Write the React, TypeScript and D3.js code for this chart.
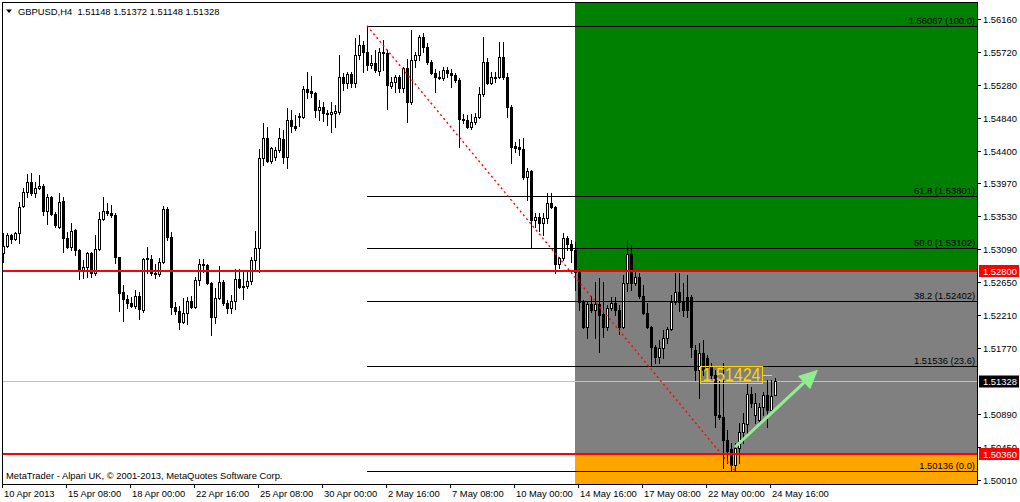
import React from "react";
import * as d3 from "d3";

// ---- data (GBPUSD, H4) ----
const opens = [
1.5304,1.5313,1.5328,1.5322,1.5330,1.5366,1.5385,1.5398,1.5384,1.5390,
1.5393,1.5360,1.5378,1.5356,1.5338,1.5373,1.5324,1.5312,1.5334,1.5308,
1.5281,1.5285,1.5304,1.5277,1.5309,1.5349,1.5360,1.5357,1.5354,1.5298,
1.5252,1.5242,1.5237,1.5233,1.5246,1.5228,1.5297,1.5296,1.5277,1.5276,
1.5292,1.5362,1.5325,1.5232,1.5226,1.5212,1.5224,1.5240,1.5232,1.5268,
1.5289,1.5288,1.5264,1.5218,1.5244,1.5265,1.5237,1.5230,1.5240,1.5269,
1.5258,1.5260,1.5266,1.5294,1.5310,1.5430,1.5457,1.5426,1.5432,1.5441,
1.5455,1.5432,1.5481,1.5473,1.5486,1.5485,1.5522,1.5520,1.5517,1.5494,
1.5499,1.5490,1.5489,1.5491,1.5492,1.5538,1.5530,1.5542,1.5530,1.5568,
1.5581,1.5572,1.5554,1.5557,1.5547,1.5572,1.5570,1.5527,1.5532,1.5538,
1.5524,1.5550,1.5505,1.5561,1.5568,1.5592,1.5578,1.5558,1.5544,1.5539,
1.5537,1.5548,1.5544,1.5541,1.5534,1.5482,1.5481,1.5472,1.5478,1.5485,
1.5516,1.5558,1.5530,1.5537,1.5538,1.5565,1.5538,1.5498,1.5446,1.5445,
1.5443,1.5405,1.5413,1.5348,1.5352,1.5344,1.5350,1.5370,1.5365,1.5289,
1.5297,1.5324,1.5316,1.5308,1.5278,1.5238,1.5205,1.5236,1.5228,1.5236,
1.5223,1.5205,1.5230,1.5237,1.5228,1.5205,1.5264,1.5302,1.5264,1.5272,
1.5246,1.5224,1.5205,1.5178,1.5165,1.5177,1.5190,1.5202,1.5238,1.5252,
1.5238,1.5245,1.5245,1.5174,1.5148,1.5170,1.5164,1.5152,1.5141,1.5088,
1.5085,1.5054,1.5042,1.5021,1.5044,1.5065,1.5075,1.5116,1.5088,1.5081,
1.5098,1.5114,1.5094,1.51148];

const highs = [
1.5330,1.5330,1.5329,1.5332,1.5372,1.5390,1.5409,1.5410,1.5398,1.5408,
1.5396,1.5382,1.5380,1.5358,1.5384,1.5378,1.5332,1.5344,1.5336,1.5309,
1.5294,1.5305,1.5305,1.5328,1.5358,1.5378,1.5370,1.5368,1.5357,1.5299,
1.5261,1.5248,1.5245,1.5254,1.5252,1.5297,1.5312,1.5301,1.5289,1.5297,
1.5366,1.5365,1.5332,1.5238,1.5233,1.5244,1.5245,1.5246,1.5272,1.5296,
1.5296,1.5289,1.5265,1.5257,1.5286,1.5268,1.5241,1.5248,1.5282,1.5282,
1.5281,1.5280,1.5298,1.5333,1.5442,1.5477,1.5472,1.5445,1.5445,1.5470,
1.5468,1.5497,1.5494,1.5488,1.5490,1.5526,1.5545,1.5540,1.5518,1.5508,
1.5505,1.5494,1.5505,1.5501,1.5568,1.5544,1.5545,1.5545,1.5590,1.5594,
1.5586,1.56067,1.5568,1.5574,1.5577,1.5588,1.5574,1.5538,1.5541,1.5541,
1.5552,1.5562,1.5601,1.5572,1.5594,1.5597,1.5584,1.5561,1.5549,1.5546,
1.5552,1.5552,1.5549,1.5544,1.5537,1.5489,1.5488,1.5489,1.5490,1.5525,
1.5592,1.5564,1.5545,1.5545,1.5585,1.5585,1.5544,1.5501,1.5452,1.5456,
1.5457,1.5417,1.5414,1.5357,1.5357,1.5357,1.5384,1.5384,1.5366,1.5298,
1.5330,1.5326,1.5321,1.5318,1.5284,1.5241,1.5238,1.5246,1.5265,1.5270,
1.5265,1.5234,1.5245,1.5245,1.5234,1.5274,1.5321,1.5314,1.5281,1.5277,
1.5261,1.5237,1.5206,1.5181,1.5188,1.5201,1.5205,1.5248,1.5277,1.5277,
1.5264,1.5274,1.5248,1.5181,1.5184,1.5188,1.5168,1.5157,1.5148,1.5134,
1.5157,1.5068,1.5050,1.5050,1.5077,1.5090,1.5129,1.5125,1.5117,1.5104,
1.5118,1.5134,1.5134,1.51372];

const lows = [
1.5292,1.5312,1.5317,1.5321,1.5317,1.5365,1.5378,1.5381,1.5378,1.5389,
1.5354,1.5342,1.5354,1.5338,1.5337,1.5305,1.5310,1.5308,1.5301,1.5269,
1.5270,1.5272,1.5272,1.5274,1.5308,1.5348,1.5354,1.5352,1.5290,1.5226,
1.5213,1.5230,1.5232,1.5230,1.5216,1.5225,1.5277,1.5274,1.5270,1.5273,
1.5290,1.5321,1.5222,1.5222,1.5202,1.5210,1.5209,1.5230,1.5231,1.5261,
1.5278,1.5262,1.5194,1.5210,1.5242,1.5234,1.5224,1.5224,1.5229,1.5257,
1.5242,1.5257,1.5262,1.5281,1.5278,1.5421,1.5425,1.5424,1.5428,1.5438,
1.5424,1.5417,1.5465,1.5468,1.5473,1.5484,1.5510,1.5512,1.5485,1.5481,
1.5480,1.5474,1.5465,1.5472,1.5489,1.5521,1.5524,1.5525,1.5525,1.5562,
1.5545,1.5548,1.5550,1.5545,1.5541,1.5548,1.5496,1.5524,1.5518,1.5518,
1.5518,1.5478,1.5503,1.5552,1.5561,1.5572,1.5556,1.5542,1.5518,1.5536,
1.5534,1.5538,1.5525,1.5532,1.5445,1.5477,1.5470,1.5469,1.5476,1.5484,
1.5513,1.5529,1.5529,1.5532,1.5537,1.5536,1.5485,1.5424,1.5438,1.5434,
1.5402,1.5374,1.5312,1.5338,1.5333,1.5328,1.5344,1.5364,1.5277,1.5284,
1.5294,1.5308,1.5292,1.5254,1.5228,1.5204,1.5190,1.5225,1.5190,1.5172,
1.5192,1.5201,1.5228,1.5221,1.5196,1.5204,1.5253,1.5254,1.5261,1.5244,
1.5222,1.5204,1.5154,1.5157,1.5157,1.5164,1.5184,1.5201,1.5236,1.5226,
1.5220,1.5218,1.5165,1.5134,1.5110,1.5141,1.5147,1.5137,1.5072,1.5083,
1.5017,1.5024,1.5014,1.50136,1.5024,1.5050,1.5064,1.5098,1.5077,1.5078,
1.5088,1.5072,1.5092,1.51148];

const closes = [
1.5313,1.5328,1.5322,1.5330,1.5365,1.5385,1.5398,1.5384,1.5390,1.5393,
1.5360,1.5378,1.5356,1.5341,1.5372,1.5324,1.5312,1.5333,1.5308,1.5281,
1.5285,1.5304,1.5277,1.5309,1.5349,1.5360,1.5357,1.5354,1.5298,1.5250,
1.5242,1.5237,1.5233,1.5246,1.5229,1.5296,1.5296,1.5277,1.5276,1.5292,
1.5362,1.5325,1.5232,1.5226,1.5212,1.5224,1.5240,1.5232,1.5268,1.5289,
1.5288,1.5264,1.5218,1.5244,1.5265,1.5237,1.5230,1.5240,1.5269,1.5258,
1.5260,1.5266,1.5294,1.5310,1.5430,1.5457,1.5426,1.5444,1.5441,1.5457,
1.5432,1.5481,1.5473,1.5470,1.5485,1.5522,1.5518,1.5517,1.5494,1.5498,
1.5490,1.5489,1.5492,1.5493,1.5538,1.5530,1.5542,1.5530,1.5568,1.5581,
1.5572,1.5554,1.5557,1.5548,1.5572,1.5570,1.5528,1.5532,1.5538,1.5524,
1.5550,1.5505,1.5561,1.5568,1.5592,1.5578,1.5558,1.5544,1.5538,1.5537,
1.5548,1.5544,1.5541,1.5534,1.5482,1.5481,1.5472,1.5478,1.5485,1.5516,
1.5558,1.5530,1.5538,1.5539,1.5565,1.5538,1.5498,1.5445,1.5444,1.5443,
1.5405,1.5413,1.5348,1.5352,1.5344,1.5350,1.5370,1.5365,1.5289,1.5297,
1.5324,1.5316,1.5308,1.5278,1.5238,1.5205,1.5236,1.5228,1.5236,1.5221,
1.5205,1.5230,1.5237,1.5228,1.5205,1.5264,1.5302,1.5264,1.5272,1.5246,
1.5224,1.5205,1.5178,1.5165,1.5177,1.5190,1.5202,1.5238,1.5252,1.5238,
1.5228,1.5228,1.5178,1.5148,1.5170,1.5148,1.5152,1.5141,1.5088,1.5085,
1.5054,1.5040,1.5021,1.5044,1.5065,1.5077,1.5116,1.5104,1.5104,1.5098,
1.5114,1.5094,1.5113,1.51328];

const timeLabels = ["10 Apr 2013","15 Apr 08:00","18 Apr 00:00","22 Apr 16:00","25 Apr 08:00","30 Apr 00:00","2 May 16:00","7 May 08:00","10 May 00:00","14 May 16:00","17 May 08:00","22 May 00:00","24 May 16:00"];
const timeLabelBars = [0,16,32,48,64,80,96,112,128,144,160,176,192];

const priceTicks = [1.56160,1.55720,1.55280,1.54840,1.54400,1.53970,1.53530,1.53090,1.52650,1.52210,1.51770,1.50890,1.50450,1.50010];

const fibPrices = [1.56067,1.53801,1.53102,1.52402,1.51536,1.50136];
const fibLabels = ["1.56067 (100.0)","61.8 (1.53801)","50.0 (1.53102)","38.2 (1.52402)","1.51536 (23.6)","1.50136 (0.0)"];
const fibStartBar = 91;
const fibEndBar = 183;

const redLevels = [1.52800, 1.50360];
const currentPrice = 1.51328;
const zoneStartBar = 143;
const priceLabelValue = 1.51424;
const priceLabelBar = 174.25;
const arrowFrom = { bar: 183, price: 1.5045 };
const arrowTo = { bar: 203.75, price: 1.5148 };

const FONT = "'Liberation Sans', Arial, sans-serif";
const FS = 9.4;

export default function App() {
  const L = 2, T = 2, R = 977, B = 484;
  const x = d3.scaleLinear().domain([0, 243.5]).range([3, 977]);
  const y = d3.scaleLinear().domain([1.5001, 1.5616]).range([480, 18.75]);
  const n = Math.min(opens.length, highs.length, lows.length, closes.length);
  const candles = d3.range(n).map((i) => {
    const cx = Math.round(x(i));
    const yo = Math.round(y(opens[i]));
    const yc = Math.round(y(closes[i]));
    const yh = Math.round(y(highs[i]));
    const yl = Math.round(y(lows[i]));
    const top = Math.min(yo, yc), bot = Math.max(yo, yc);
    const bull = closes[i] > opens[i];
    return (
      <g key={i}>
        <line x1={cx + 0.5} x2={cx + 0.5} y1={yh} y2={yl + 1} stroke="#000" strokeWidth={1} />
        {bull ? (
          <rect x={cx - 0.5} y={top + 0.5} width={2} height={Math.max(bot - top, 0)} fill="#fff" stroke="#000" strokeWidth={1} />
        ) : (
          <rect x={cx - 1} y={top} width={3} height={bot - top + 1} fill="#000" />
        )}
      </g>
    );
  });

  const yRed0 = y(redLevels[0]);
  const yRed1 = y(redLevels[1]);
  const zx = x(zoneStartBar);
  const yCur = Math.round(y(currentPrice)) + 0.5;

  // arrow geometry
  const ax0 = x(arrowFrom.bar), ay0 = y(arrowFrom.price);
  const ax1 = x(arrowTo.bar), ay1 = y(arrowTo.price);
  const dx = ax1 - ax0, dy = ay1 - ay0;
  const len = Math.hypot(dx, dy);
  const ux = dx / len, uy = dy / len;
  const headL = 19, headW = 9;
  const bx = ax1 - ux * headL, by = ay1 - uy * headL;
  const px = -uy, py = ux;
  const head = `${ax1},${ay1} ${bx + px * headW},${by + py * headW} ${bx - px * headW},${by - py * headW}`;

  const plx = x(priceLabelBar);
  const ply = Math.round(y(priceLabelValue));

  return (
    <svg width={1020} height={502} style={{ position: "absolute", left: 0, top: 0, background: "#fff" }} fontFamily={FONT}>
      <defs>
        <clipPath id="plot">
          <rect x={L + 1} y={T + 1} width={R - L - 1} height={B - T - 1} />
        </clipPath>
      </defs>
      <rect x={0} y={0} width={1020} height={502} fill="#fff" />
      <g clipPath="url(#plot)" shapeRendering="crispEdges">
        {/* zones */}
        <rect x={zx} y={T} width={R - zx} height={yRed0 - T} fill="#008000" />
        <rect x={zx} y={yRed0} width={R - zx} height={yRed1 - yRed0} fill="#808080" />
        <rect x={zx} y={yRed1} width={R - zx} height={B - yRed1} fill="#FFA500" />
        {/* current price line */}
        <line x1={L} x2={R} y1={yCur} y2={yCur} stroke="#C0C0C0" strokeWidth={1} />
        {candles}
        {/* fib lines */}
        {fibPrices.map((p, i) => {
          const yy = Math.round(y(p)) + 0.5;
          return (
            <g key={i}>
              <line x1={x(fibStartBar)} x2={R} y1={yy} y2={yy} stroke="#000" strokeWidth={1} />
              <text x={975} y={yy - 2.5} textAnchor="end" fontSize={FS} fill="#000" shapeRendering="auto">{fibLabels[i]}</text>
            </g>
          );
        })}
        {/* red levels */}
        {redLevels.map((p, i) => (
          <line key={i} x1={L} x2={R} y1={Math.round(y(p))} y2={Math.round(y(p))} stroke="#FF0000" strokeWidth={2} />
        ))}
      </g>
      <g clipPath="url(#plot)">
        {/* fib trend line */}
        <line x1={x(fibStartBar)} y1={y(fibPrices[0])} x2={x(fibEndBar)} y2={y(fibPrices[5])} stroke="#FF0000" strokeWidth={1.4} strokeDasharray="2 3" />
        {/* price label */}
        <rect x={plx + 0.5} y={ply - 7.5} width={62} height={17} fill="none" stroke="#FFD700" strokeWidth={1} />
        <text x={plx + 31.5} y={ply + 7} textAnchor="middle" fontSize={17.5} fill="#FFD700" textLength={58} lengthAdjust="spacingAndGlyphs">1.51424</text>
        <line x1={plx + 62.5} x2={plx + 72} y1={ply + 1.5} y2={ply + 1.5} stroke="#FFD700" strokeWidth={1} />
        {/* arrow */}
        <line x1={ax0} y1={ay0} x2={bx} y2={by} stroke="#90EE90" strokeWidth={3} />
        <polygon points={head} fill="#90EE90" />
      </g>
      {/* frame */}
      <rect x={L + 0.5} y={T + 0.5} width={R - L} height={B - T} fill="none" stroke="#000" strokeWidth={1} shapeRendering="crispEdges" />
      {/* title */}
      <polygon points="6,9.5 12,9.5 9,13" fill="#000" />
      <text x={18} y={14.5} fontSize={FS} fill="#000" style={{ whiteSpace: "pre" }}>{"GBPUSD,H4  1.51148 1.51372 1.51148 1.51328"}</text>
      <text x={6} y={479} fontSize={FS} fill="#000">MetaTrader - Alpari UK, © 2001-2013, MetaQuotes Software Corp.</text>
      {/* price axis */}
      {priceTicks.map((p, i) => {
        const yy = Math.round(y(p)) + 0.5;
        return (
          <g key={i}>
            <line x1={R} x2={R + 4} y1={yy} y2={yy} stroke="#000" shapeRendering="crispEdges" />
            <text x={983} y={yy + 3.5} fontSize={FS} fill="#000">{p.toFixed(5)}</text>
          </g>
        );
      })}
      {redLevels.map((p, i) => {
        const yy = Math.round(y(p));
        return (
          <g key={i}>
            <rect x={979} y={yy - 6} width={40} height={12} fill="#FF0000" />
            <text x={983} y={yy + 3.5} fontSize={FS} fill="#fff">{p.toFixed(5)}</text>
          </g>
        );
      })}
      <rect x={979} y={Math.round(y(currentPrice)) - 5.5} width={40} height={12} fill="#000" />
      <text x={983} y={Math.round(y(currentPrice)) + 4} fontSize={FS} fill="#fff">{currentPrice.toFixed(5)}</text>
      {/* time axis */}
      {timeLabelBars.map((b, i) => {
        const xx = Math.round(x(b)) - 0.5;
        return (
          <g key={i}>
            <line x1={xx} x2={xx} y1={B} y2={B + 4} stroke="#000" shapeRendering="crispEdges" />
            <text x={xx + 1.5} y={497} fontSize={FS} fill="#000">{timeLabels[i]}</text>
          </g>
        );
      })}
    </svg>
  );
}
